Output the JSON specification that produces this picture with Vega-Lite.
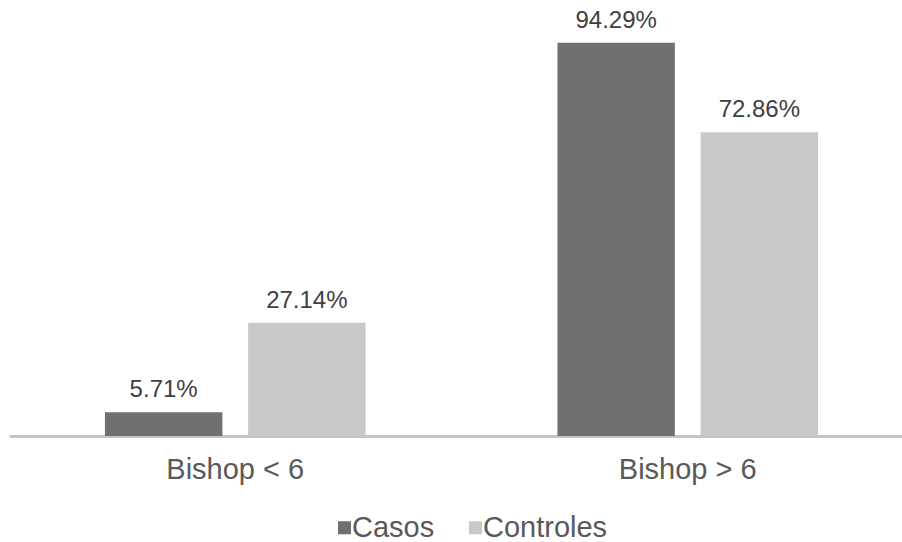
{
  "$schema": "https://vega.github.io/schema/vega-lite/v6.json",
  "width": 893,
  "height": 417,
  "autosize": "none",
  "padding": {"left": 9, "top": 19, "right": 0, "bottom": 106},
  "background": "white",
  "config": {
    "view": {"stroke": null},
    "font": "Liberation Sans",
    "text": {"font": "Liberation Sans"}
  },
  "data": {
    "values": [
      {"grupo": "Bishop < 6", "serie": "Casos", "valor": 5.71},
      {"grupo": "Bishop < 6", "serie": "Controles", "valor": 27.14},
      {"grupo": "Bishop > 6", "serie": "Casos", "valor": 94.29},
      {"grupo": "Bishop > 6", "serie": "Controles", "valor": 72.86}
    ]
  },
  "transform": [
    {"calculate": "format(datum.valor, '.2f') + '%'", "as": "etiqueta"}
  ],
  "encoding": {
    "x": {
      "field": "grupo",
      "type": "nominal",
      "sort": ["Bishop < 6", "Bishop > 6"],
      "scale": {"range": [0, 905], "paddingInner": 0, "paddingOuter": 0},
      "axis": {
        "title": null,
        "labelAngle": 0,
        "labelFontSize": 29,
        "labelColor": "#595959",
        "labelFont": "Liberation Sans",
        "labelPadding": 19,
        "ticks": false,
        "domainColor": "#c4c4c4",
        "domainWidth": 3
      }
    },
    "xOffset": {
      "field": "serie",
      "type": "nominal",
      "sort": ["Casos", "Controles"],
      "scale": {"paddingInner": 0.18, "paddingOuter": 0.67}
    },
    "y": {
      "field": "valor",
      "type": "quantitative",
      "scale": {"domain": [0, 100], "nice": false, "zero": true},
      "axis": null
    }
  },
  "layer": [
    {
      "mark": {"type": "bar"},
      "encoding": {
        "fill": {
          "field": "serie",
          "type": "nominal",
          "sort": ["Casos", "Controles"],
          "scale": {"domain": ["Casos", "Controles"], "range": ["#707070", "#c9c9c9"]},
          "legend": {
            "title": null,
            "orient": "none",
            "direction": "horizontal",
            "legendX": 321,
            "legendY": 494,
            "symbolType": "square",
            "symbolSize": 170,
            "symbolStrokeWidth": 0,
            "labelFontSize": 29,
            "labelColor": "#595959",
            "labelFont": "Liberation Sans",
            "labelOffset": -7,
            "columnPadding": 26,
            "padding": 0
          }
        }
      }
    },
    {
      "mark": {
        "type": "text",
        "baseline": "alphabetic",
        "dy": -15,
        "fontSize": 24,
        "color": "#404040",
        "font": "Liberation Sans"
      },
      "encoding": {
        "text": {"field": "etiqueta", "type": "nominal"}
      }
    }
  ]
}
